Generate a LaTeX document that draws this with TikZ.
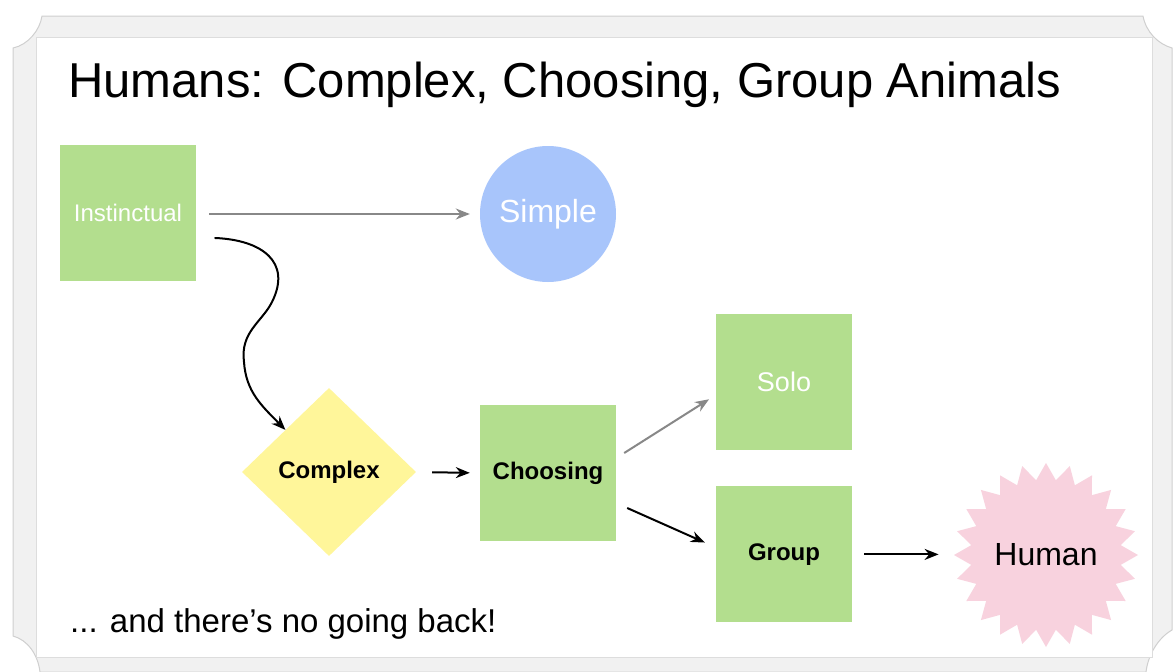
\documentclass[tikz,border=0pt]{standalone}
\usepackage{fontspec}
\setmainfont{Liberation Sans}
\definecolor{slideGreen}{HTML}{B3DE8E}
\definecolor{slideBlue}{HTML}{A8C5FB}
\definecolor{slideYellow}{HTML}{FFF69A}
\definecolor{slidePink}{HTML}{F8D2DE}
\definecolor{slideGrey}{HTML}{888888}
\definecolor{frameGrey}{HTML}{F1F1F1}
\definecolor{frameLine}{HTML}{CFCFCF}
\usepackage{tikz}
\usetikzlibrary{arrows.meta, positioning, shapes.geometric, calc}
\tikzset{
    green box/.style={rectangle, fill=slideGreen, minimum width=136pt, minimum height=136pt, inner sep=0pt, align=center},
    white label/.style={text=white, font=\fontsize{24}{28}\selectfont},
    bold label/.style={text=black, font=\fontsize{24}{28}\selectfont\bfseries},
    arrow style/.style={-{Stealth[length=14pt, width=11pt]}, line width=2pt, black},
    grey arrow/.style={-{Stealth[length=14pt, width=11pt]}, line width=2pt, slideGrey},
}

\begin{document}
\begin{tikzpicture}[x=1pt, y=-1pt]
        \useasboundingbox (0,0) rectangle (1176,672);
        % slide frame with curled corners
        \path[fill=frameGrey, draw=frameLine, line width=1pt]
            (13,48) .. controls (28,45) and (40,30) .. (42,16) -- (1143,16)
            .. controls (1146,32) and (1158,44) .. (1172,48) -- (1172,630)
            .. controls (1158,638) and (1148,655) .. (1146,672) -- (40,672)
            .. controls (38,655) and (28,640) .. (13,636) -- cycle;
        \path[fill=white, draw=frameLine!70, line width=0.8pt] (36,37) rectangle (1152,657);

        \node[anchor=base west, font=\fontsize{49}{58}\selectfont, inner sep=0pt] (title) at (68,97) {Humans: Complex, Choosing, Group Animals};

        \tikzset{
            circle node/.style={circle, fill=slideBlue, minimum size=136pt, inner sep=0pt},
            diamond node/.style={diamond, fill=slideYellow, minimum width=174pt, minimum height=168pt, inner sep=0pt},
            burst node/.style={star, star points=24, star point ratio=1.22, fill=slidePink, minimum size=184pt, inner sep=0pt},
        }
        \node[green box, white label] (inst) at (128,213) {Instinctual};
        \node[circle node, white label, font=\fontsize{32}{36}\selectfont] (simple) at (548,214) {Simple};
        \node[diamond node, bold label] (cplx) at (329,472) {Complex};
        \node[green box, bold label] (choose) at (548,473) {Choosing};
        \node[green box, white label, font=\fontsize{27}{32}\selectfont] (solo) at (784,382) {Solo};
        \node[green box, bold label, below=36pt of solo] (group) {Group};
        \node[burst node, font=\fontsize{32}{36}\selectfont] (human) at (1046,555) {Human};

        \node[anchor=base west, font=\fontsize{33}{38}\selectfont, inner sep=0pt] (note) at (70,632) {... and there’s no going back!};

        \coordinate (curlStart) at ($(inst.east)+(19,25)$);
        \coordinate (csUp) at ($(choose.east)+(8,-20)$);
        \coordinate (csDown) at ($(choose.east)+(11,35)$);

        \draw[grey arrow, shorten <=13pt, shorten >=10pt] (inst.east |- simple) -- (simple.west);
        \draw[arrow style, line cap=round] (curlStart) .. controls (262,240) and (292,262) .. (272,302)
            .. controls (262,322) and (240,332) .. (244,362)
            .. controls (246,392) and (262,406) .. (cplx.north west);
        \draw[arrow style, shorten <=16pt, shorten >=10pt] (cplx.east) -- (choose.west);
        \draw[grey arrow, shorten >=8pt] (csUp) -- ($(solo.west)+(0,13)$);
        \draw[arrow style, shorten >=12pt] (csDown) -- ($(group.west)+(0,-7)$);
        \draw[arrow style, shorten <=12pt, shorten >=15pt] (group.east) -- (group.east -| human.west);
    \end{tikzpicture}
\end{document}
